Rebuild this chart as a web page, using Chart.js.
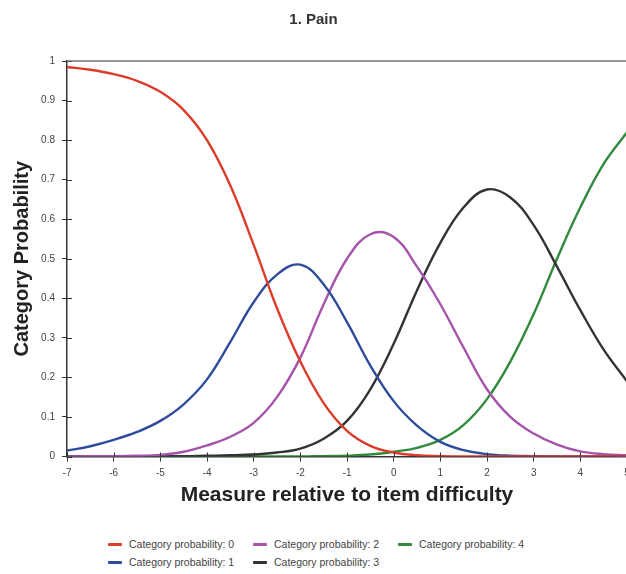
<!DOCTYPE html>
<html>
<head>
<meta charset="utf-8">
<script src="https://cdn.jsdelivr.net/npm/chart.js@4/dist/chart.umd.min.js"></script>
<style>
  html, body { margin: 0; padding: 0; background: #fff; overflow: hidden; }
  #wrap { position: relative; width: 626px; height: 574px; overflow: hidden; }
  #chart { position: absolute; left: 0; top: 0; }
  #legend {
    position: absolute; left: 108px; top: 535px;
    display: grid; grid-template-columns: 145px 145px 145px;
    grid-template-rows: 18px 18px; grid-auto-flow: column;
    font-family: "Liberation Sans", Arial, sans-serif; font-size: 10.5px; color: #444;
  }
  #legend .item { display: flex; align-items: center; white-space: nowrap; }
  #legend .mark { width: 14px; height: 3px; margin-right: 7px; border-radius: 1px; }
</style>
</head>
<body>
<div id="wrap">
  <canvas id="chart" width="640" height="520"></canvas>
  <div id="legend"></div>
</div>
<script>
// x positions (measure relative to item difficulty)
const measures = [-7, -6.5, -6, -5.5, -5, -4.5, -4, -3.5, -3, -2.5, -2, -1.5, -1,
  -0.5, 0, 0.5, 1, 1.5, 2, 2.5, 3, 3.5, 4, 4.5, 5];

// category probabilities
const cat0 = [0.985, 0.978, 0.967, 0.95, 0.922, 0.876, 0.8, 0.685, 0.535, 0.375, 0.24, 0.135,
  0.065, 0.027, 0.01, 0.003, 0.001, 0, 0, 0, 0, 0, 0, 0, 0];
const cat1 = [0.015, 0.026, 0.042, 0.062, 0.09, 0.132, 0.195, 0.29, 0.39, 0.46, 0.485, 0.435,
  0.34, 0.23, 0.14, 0.078, 0.037, 0.016, 0.006, 0.002, 0.001, 0, 0, 0, 0];
const cat2 = [0, 0.001, 0.001, 0.002, 0.004, 0.012, 0.028, 0.05, 0.085, 0.15, 0.25, 0.385,
  0.5, 0.562, 0.555, 0.48, 0.385, 0.275, 0.17, 0.1, 0.058, 0.03, 0.013, 0.006, 0.003];
const cat3 = [0, 0, 0, 0, 0.001, 0.001, 0.002, 0.003, 0.005, 0.01, 0.02, 0.045,
  0.09, 0.17, 0.285, 0.42, 0.54, 0.63, 0.675, 0.655, 0.585, 0.48, 0.37, 0.27, 0.19];
const cat4 = [0, 0, 0, 0, 0, 0, 0, 0, 0, 0, 0, 0.001,
  0.002, 0.005, 0.012, 0.022, 0.042, 0.08, 0.145, 0.24, 0.36, 0.5, 0.63, 0.74, 0.82];

const seriesLabels = ["Category probability: 0", "Category probability: 1",
  "Category probability: 2", "Category probability: 3", "Category probability: 4"];
const seriesColors = ["#dc3c2a", "#2d4c9c", "#a553ab", "#333333", "#318a3c"];

const yTicks = [0, 0.1, 0.2, 0.3, 0.4, 0.5, 0.6, 0.7, 0.8, 0.9, 1];

window.addEventListener("DOMContentLoaded", () => {
  renderChart();
  buildLegend();
});

// short tick marks inside the plot + top frame line
const innerTicks = {
  id: "innerTicks",
  afterDatasetsDraw(chart) {
    const { ctx, chartArea, scales } = chart;
    ctx.save();
    ctx.strokeStyle = "#333";
    ctx.lineWidth = 1;
    ctx.beginPath();
    scales.x.ticks.forEach((t) => {
      const px = Math.round(scales.x.getPixelForValue(t.value)) + 0.5;
      ctx.moveTo(px, chartArea.bottom);
      ctx.lineTo(px, chartArea.bottom - 4);
    });
    scales.y.ticks.forEach((t) => {
      const py = Math.round(scales.y.getPixelForValue(t.value)) + 0.5;
      ctx.moveTo(chartArea.left, py);
      ctx.lineTo(chartArea.left + 5, py);
    });
    ctx.stroke();
    ctx.strokeStyle = "#777";
    ctx.lineWidth = 1.5;
    ctx.beginPath();
    ctx.moveTo(chartArea.left, chartArea.top);
    ctx.lineTo(chartArea.right, chartArea.top);
    ctx.stroke();
    ctx.restore();
  },
};

function renderChart() {
  const ctx = document.getElementById("chart").getContext("2d");
  const all = [cat0, cat1, cat2, cat3, cat4];

  const datasets = all.map((vals, i) => ({
    label: seriesLabels[i],
    data: measures.map((m, j) => ({ x: m, y: vals[j] })),
    borderColor: seriesColors[i],
    backgroundColor: seriesColors[i],
    borderWidth: 2.4,
    pointRadius: 0,
    fill: false,
    tension: 0.4,
  }));

  new Chart(ctx, {
    type: "line",
    data: { datasets },
    plugins: [innerTicks],
    options: {
      responsive: false,
      animation: false,
      devicePixelRatio: 1,
      layout: { padding: { left: 0, top: 0, right: 13, bottom: 0 } },
      plugins: {
        legend: { display: false },
        tooltip: { enabled: false },
        title: {
          display: true,
          text: "1. Pain",
          color: "#333",
          font: { family: "Liberation Sans", size: 15, weight: "bold" },
          padding: { top: 11, bottom: 32 },
        },
      },
      scales: {
        x: {
          type: "linear",
          min: -7,
          max: 5,
          afterFit: (s) => { s.height = 63.5; },
          ticks: {
            stepSize: 1,
            color: "#444",
            padding: 6,
            maxRotation: 0,
            font: { family: "Liberation Sans", size: 10 },
          },
          grid: { drawOnChartArea: false, tickLength: 5, color: "#333" },
          border: { color: "#333", width: 1.5 },
          title: {
            display: true,
            text: "Measure relative to item difficulty",
            color: "#222",
            font: { family: "Liberation Sans", size: 21, weight: "bold" },
            padding: { top: 0, bottom: 12 },
          },
        },
        y: {
          min: 0,
          max: 1,
          afterFit: (s) => { s.width = 67; },
          afterBuildTicks: (s) => { s.ticks = yTicks.map((v) => ({ value: v })); },
          ticks: {
            color: "#444",
            padding: 7,
            font: { family: "Liberation Sans", size: 10 },
            callback: (v) => String(Math.round(v * 10) / 10),
          },
          grid: { drawOnChartArea: false, tickLength: 5, color: "#333" },
          border: { color: "#333", width: 1.5 },
          title: {
            display: true,
            text: "Category Probability",
            color: "#222",
            font: { family: "Liberation Sans", size: 20, weight: "bold" },
            padding: { top: 10.5, bottom: 0 },
          },
        },
      },
    },
  });
}

function buildLegend() {
  const legend = document.getElementById("legend");
  legend.innerHTML = seriesLabels
    .map((label, i) => `<div class="item"><span class="mark" style="background:${seriesColors[i]}"></span>${label}</div>`)
    .join("");
}
</script>
</body>
</html>
